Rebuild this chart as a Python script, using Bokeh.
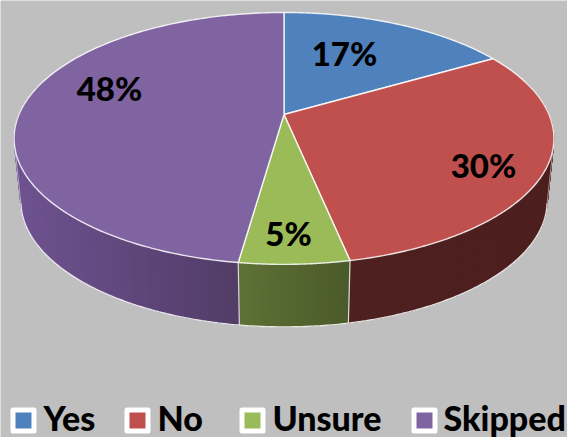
import numpy as np
from bokeh.plotting import figure
from bokeh.models import Range1d
from bokeh.core.properties import value
from bokeh.embed import file_html
from bokeh.resources import INLINE

# ---- data
categories = ["Yes", "No", "Unsure", "Skipped"]
shares = [16.6, 30.15, 5.49, 47.76]

# ---- styles
top_colors = ["#4F81BD", "#C0504D", "#9BBB59", "#8064A2"]
side_left = ["#2F4D71", "#4E2020", "#5E7135", "#6E5290"]
side_right = ["#2F4D71", "#4C1F1E", "#4A5A2A", "#513C66"]
BG = "#BFBFBF"
FONT = "Lato Black, Lato"

# ---- layout: the plot's data space is page pixels
cx, cy = 283.5, 114.0      # apex of the disc
R, K, P = 265.0, 121.4, 0.19  # perspective of the disc
depth, shrink = 62.5, 0.975
label_x = [344, 483, 288, 109]
label_y = [52, 164, 232, 87]
legend_box_x = [23, 137, 252, 424]
legend_text_x = [43, 157, 272, 443]
legend_box_y = 420
legend_text_y = 417

p = figure(width=567, height=437, x_range=Range1d(0, 567), y_range=Range1d(437, 0),
           toolbar_location=None, output_backend="svg", min_border=0,
           background_fill_color=BG, border_fill_color=BG, outline_line_color=None)
p.axis.visible = False
p.grid.visible = False


def rim(theta):
    u, v = np.sin(theta), np.cos(theta)
    w = 1 + P * v
    return cx + R * u / w, cy - K * v / w


def rim_low(theta):
    x, y = rim(theta)
    return cx + (x - cx) * shrink, y + depth


def hexmix(a, b, t):
    ca = [int(a[i:i + 2], 16) for i in (1, 3, 5)]
    cb = [int(b[i:i + 2], 16) for i in (1, 3, 5)]
    return "#%02x%02x%02x" % tuple(int(round(x + (y - x) * t)) for x, y in zip(ca, cb))


total = sum(shares)
edges = np.concatenate([[0], np.cumsum(shares)]) / total * 2 * np.pi
V_LIMIT = -0.2

# side wall, cut into narrow strips for the gradient
xs, ys, cols = [], [], []
for i in range(len(shares)):
    th = np.linspace(edges[i], edges[i + 1], 90)
    x_lo, x_hi = 15.0, 551.0
    if i == 3:
        x_lo, x_hi = 15.0, rim(edges[3])[0]
    if i == 2:
        x_lo, x_hi = rim(edges[3])[0], rim(edges[2])[0]
    if i == 1:
        x_lo, x_hi = rim(edges[2])[0], 551.0
    for a, b in zip(th[:-1], th[1:]):
        if np.cos((a + b) / 2) > 0.3:
            continue
        xa, ya = rim(a)
        xb, yb = rim(b)
        xc, yc = rim_low(b)
        xd, yd = rim_low(a)
        xs.append([xa, xb, xc, xd])
        ys.append([ya, yb, yc, yd])
        t = min(max(((xa + xb) / 2 - x_lo) / (x_hi - x_lo), 0), 1)
        cols.append(hexmix(side_left[i], side_right[i], t))
p.patches(xs, ys, fill_color=cols, line_color=cols, line_width=1)

# white edges of the wall
vis = np.linspace(0, 2 * np.pi, 721)
vis = vis[np.cos(vis) < V_LIMIT]
lx, ly = rim_low(vis)
p.line(lx.tolist(), ly.tolist(), line_color="white", line_width=1.4, line_alpha=0.85)
for e in (edges[2], edges[3]):
    x0, y0 = rim(e)
    x1, y1 = rim_low(e)
    p.line([x0, x1], [y0, y1], line_color="white", line_width=1.2, line_alpha=0.8)
for s in (vis[0], vis[-1]):
    x0, y0 = rim(s)
    x1, y1 = rim_low(s)
    p.line([x0, x1], [y0, y1], line_color="white", line_width=1, line_alpha=0.5)

# top of the disc
for i in range(len(shares)):
    th = np.linspace(edges[i], edges[i + 1], 160)
    x, y = rim(th)
    p.patch([cx] + x.tolist(), [cy] + y.tolist(), fill_color=top_colors[i],
            line_color="white", line_width=1.4, line_alpha=0.85, line_join="round")

# value labels
p.text(label_x, label_y, text=[f"{round(s)}%" for s in shares], text_align="center",
       text_baseline="middle", text_font=value(FONT), text_font_style="bold",
       text_font_size="33px", text_color="black")

# legend
p.scatter(legend_box_x, [legend_box_y] * 4, marker="square", size=21, fill_color=top_colors,
          line_color="white", line_width=5, line_join="round")
p.text(legend_text_x, [legend_text_y] * 4, text=categories, text_align="left",
       text_baseline="middle", text_font=value(FONT), text_font_style="bold",
       text_font_size="34px", text_color="black")

open("out.html", "w").write(file_html(p, INLINE))
